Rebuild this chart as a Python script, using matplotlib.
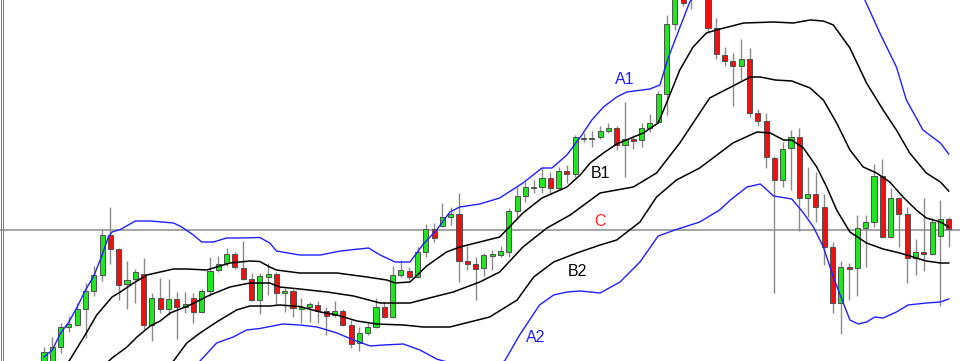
import matplotlib
matplotlib.use("Agg")
import matplotlib.pyplot as plt
from matplotlib.lines import Line2D

# precios (unidades del gráfico), una vela por índice
opens = [-1, -3, 14, 34, 36, 52, 70, 86, 126, 112,
         77, 82, 87, 36, 63, 52, 62, 54, 63, 49,
         70, 91, 98, 107, 93, 82, 61, 84, 87, 68,
         70, 52, 54, 56, 50, 46, 50, 36, 18, 28,
         34, 54, 44, 86, 90, 84, 109, 132, 135, 144,
         147, 100, 97, 93, 105, 106, 109, 150, 165, 174,
         174, 183, 173, 190, 187, 223, 222, 224, 230, 233,
         216, 222, 221, 233, 239, 267, 337, 364, 376, 391,
         366, 333, 306, 300, 295, 302, 248, 240, 203, 181,
         213, 224, 163, 167, 154, 114, 58, 94, 93, 133,
         139, 185, 124, 163, 147, 103, 109, 107, 125, 142]
closes = [9, 14, 34, 37, 52, 70, 86, 126, 112, 76,
          81, 89, 36, 63, 52, 62, 54, 57, 49, 70,
          90, 97, 107, 94, 82, 61, 85, 87, 68, 70,
          53, 54, 57, 50, 45, 50, 36, 17, 28, 34,
          54, 44, 86, 91, 84, 109, 132, 123, 144, 147,
          100, 97, 92, 106, 107, 110, 150, 165, 174, 173,
          183, 173, 190, 187, 224, 222, 223, 230, 233, 216,
          222, 220, 233, 238, 267, 337, 363, 358, 366, 376,
          333, 307, 300, 295, 302, 248, 240, 204, 181, 212,
          224, 163, 167, 154, 114, 58, 94, 92, 133, 139,
          185, 124, 163, 147, 103, 109, 107, 139, 142, 132]
highs = [14, 24, 38, 45, 58, 78, 95, 132, 154, 113,
         100, 92, 103, 68, 83, 82, 69, 69, 68, 72,
         104, 105, 113, 109, 120, 88, 88, 98, 89, 73,
         72, 63, 59, 60, 54, 60, 52, 41, 34, 38,
         63, 59, 95, 101, 94, 114, 137, 138, 158, 154,
         168, 115, 104, 108, 111, 115, 153, 174, 179, 181,
         193, 189, 194, 196, 226, 228, 230, 235, 238, 235,
         259, 226, 238, 247, 270, 346, 369, 369, 381, 399,
         371, 343, 314, 308, 322, 313, 252, 248, 205, 219,
         231, 233, 194, 189, 167, 119, 100, 98, 146, 146,
         197, 202, 173, 164, 154, 122, 163, 143, 161, 144]
lows = [-5, -7, 8, 29, 35, 23, 65, 80, 97, 61,
        52, 58, 31, 20, 48, 46, 22, 48, 38, 48,
        65, 89, 95, 92, 81, 60, 47, 66, 56, 49,
        44, 38, 39, 38, 26, 44, 35, 13, 10, 26,
        33, 43, 43, 84, 81, 83, 104, 119, 134, 136,
        79, 91, 61, 85, 91, 104, 104, 142, 159, 168,
        168, 168, 171, 178, 184, 219, 214, 222, 228, 211,
        184, 212, 214, 229, 238, 246, 331, 355, 352, 369,
        328, 302, 295, 255, 281, 244, 235, 193, 68, 174,
        171, 130, 144, 139, 96, 48, 27, 61, 65, 94,
        134, 123, 123, 114, 78, 86, 90, 106, 55, 114]

# bandas (índice de vela, valor)
a1_t = [0, 1, 2, 3, 4, 5, 6, 7, 7.75, 8.2, 9.2, 11, 12.8, 15.6, 16.6, 18, 19, 20.4, 22, 23.6,
        26, 27.2, 28, 30.8, 33.3, 35.7, 39.1, 40.5, 42.3, 44.1, 45.7, 47.3, 48.9, 50.1, 52.5,
        54.9, 57.7, 60, 61.2, 63, 64.8, 66, 67.4, 69, 70.2, 73, 74.2, 75.2, 76.4, 77.8, 79, 81,
        86, 90, 94, 96.5, 98.9, 100.7, 102.7, 103.9, 105.9, 108, 109]
a1_v = [4, 11, 28, 39, 54, 71, 85, 106, 124, 129, 131.5, 140, 140, 138, 134, 126, 119, 119, 123, 123,
        123.5, 118, 110, 106, 106, 110, 113, 106, 99, 99, 117, 131, 149, 154, 157,
        163, 178, 193, 193, 206, 226, 241, 254, 264, 269, 272, 276, 303, 329, 359, 373, 388,
        392, 398, 405, 388, 361, 328, 294, 261, 231, 218, 207]

b1_t = [0, 3.1, 5.1, 6.35, 8.2, 9.2, 10.8, 12.4, 14, 15.6, 17.2, 19.6, 21.2, 22.4, 24.8, 26, 27.2,
        28, 30.8, 35.3, 38.9, 41.3, 42.3, 44.1, 46.1, 48.5, 50.1, 52.5, 54.9, 57.7, 60, 63, 64.6,
        65.8, 67.4, 69, 72.2, 74, 75, 76.6, 78.2, 79.8, 81, 84.3, 87.9, 90.3, 92.3, 93.9, 95.1,
        97.1, 99.1, 101.1, 102.7, 104.3, 106.3, 108, 109]
b1_v = [-30, 1, 28, 46, 64, 69, 78, 86, 89, 92, 92, 91, 95, 98, 100, 99.5, 94,
        91, 88, 88, 84, 81, 78, 79, 95, 109, 114, 119, 124, 148, 163, 174, 186,
        198, 208, 217, 228, 238, 258, 291, 314, 328, 331, 338, 339, 338, 341, 340, 336,
        313, 278, 251, 231, 208, 188, 179, 170]

m_t = [0, 8.2, 10, 11.2, 12.8, 14, 15.2, 17.6, 20, 22.4, 24.8, 27.2, 28.4, 30.8, 34.1, 37.3,
       40.5, 42.3, 44.1, 46.9, 49.3, 52.5, 54.9, 57.7, 60.6, 63.4, 67, 71, 73.8, 76.6, 80.2,
       85.1, 86.3, 88.1, 90.1, 92.3, 93.9, 95.5, 97.1, 98.7, 100.3, 101.9, 103.5, 105.1, 106.3,
       108, 109]
m_v = [-60, 3, 14, 24, 35, 40, 48, 56, 66, 74, 78, 78, 74, 72, 69, 65,
       58, 58, 58, 64, 69, 79, 89, 114, 133, 146, 168, 174, 188, 218, 263,
       284, 284, 281, 280, 273, 261, 238, 211, 194, 188, 179, 164, 151, 143,
       139, 134]

b2_t = [10, 15.6, 17.2, 18.8, 20.8, 23.2, 24.8, 27.2, 28.4, 30.8, 33.3, 35.3, 37.7, 40.1, 43.3,
        45.7, 48.9, 51.3, 53.7, 57, 59, 61.4, 64.2, 67, 69, 71.8, 73.8, 76.2, 79, 83, 85.9, 87.5,
        89.1, 90.1, 91.5, 93.1, 94.3, 95.5, 97.1, 99.1, 101.1, 103.1, 104.7, 106.3, 108, 109]
b2_v = [-40, 0, 18, 28, 39, 51, 55, 55, 56, 54.5, 49, 46, 40, 37, 36,
        34, 34, 39, 44, 61, 84, 99, 108, 116, 121, 139, 164, 181, 193, 218, 229, 228,
        221, 221, 213, 194, 174, 151, 129, 118, 112, 108, 104, 100, 98, 98]

a2_t = [14, 18.8, 20.8, 22.8, 24.4, 26, 28.8, 30.8, 32.9, 35.3, 37.3, 39.3, 40.9, 43.3, 45.3,
        47.3, 48.1, 51, 54, 55.5, 57.3, 59.7, 61.4, 63, 64.6, 67, 69.4, 71.8, 74, 76, 79, 81.4,
        82.7, 84.7, 86.3, 87.9, 90.1, 91.5, 92.7, 93.9, 95.1, 96.3, 97.1, 98.1, 99.1, 100.1,
        101.1, 102.7, 104.1, 106.3, 108, 109]
a2_v = [-50, 0, 18, 24, 31, 32.5, 37, 36, 34, 28, 21, 15, 16, 17, 11,
        2, 0, -5, -5, 0, 26, 56, 66, 69, 70, 68, 79, 99, 125, 131, 139, 151,
        161, 174, 177, 165, 162, 148, 134, 114, 84, 58, 41, 37, 39, 44,
        43, 49, 56, 58, 59, 62]

nivel_c = 131.5

plt.rcParams["font.family"] = ["Liberation Sans", "DejaVu Sans"]

fig = plt.figure(figsize=(9.6, 3.61), dpi=100)
ax = fig.add_axes([0, 0, 1, 1])
ax.set_xlim(-44 / 8.3, (960 - 44) / 8.3)
ax.set_ylim(0, 361)
ax.axis("off")

ax.axhline(nivel_c, color="#8c8c8c", linewidth=1.1, zorder=1)

x = list(range(len(opens)))
ax.vlines(x, lows, highs, color="#8a8a8a", linewidth=1.0, zorder=2)
for i in x:
    o, c = opens[i], closes[i]
    col = "#1fe61f" if c >= o else "#f01010"
    h = max(abs(c - o), 1.2)
    ax.bar(i, h, bottom=min(o, c), width=0.62, color=col, edgecolor="#505050",
           linewidth=0.7, zorder=3)

ax.plot(a1_t, a1_v, color="#1f1fff", linewidth=1.0, zorder=4)
ax.plot(a2_t, a2_v, color="#1f1fff", linewidth=1.0, zorder=4)
ax.plot(b1_t, b1_v, color="black", linewidth=1.1, zorder=4)
ax.plot(m_t, m_v, color="black", linewidth=1.1, zorder=4)
ax.plot(b2_t, b2_v, color="black", linewidth=1.1, zorder=4)

ax.text(70.0, 281, "A1", color="#1f1fff", fontsize=11.5, ha="center", va="center")
ax.text(67.0, 188, "B1", color="black", fontsize=11.5, ha="center", va="center")
ax.text(67.0, 139, "C", color="#ff2020", fontsize=11.5, ha="center", va="center")
ax.text(64.3, 89, "B2", color="black", fontsize=11.5, ha="center", va="center")
ax.text(59.2, 23, "A2", color="#1f1fff", fontsize=11.5, ha="center", va="center")

# borde izquierdo doble
fig.add_artist(Line2D([0.5 / 960, 0.5 / 960], [0, 1], transform=fig.transFigure, color="#808080", linewidth=0.75))
fig.add_artist(Line2D([2.5 / 960, 2.5 / 960], [0, 1], transform=fig.transFigure, color="#808080", linewidth=0.75))

fig.savefig("out.png", dpi=100)
